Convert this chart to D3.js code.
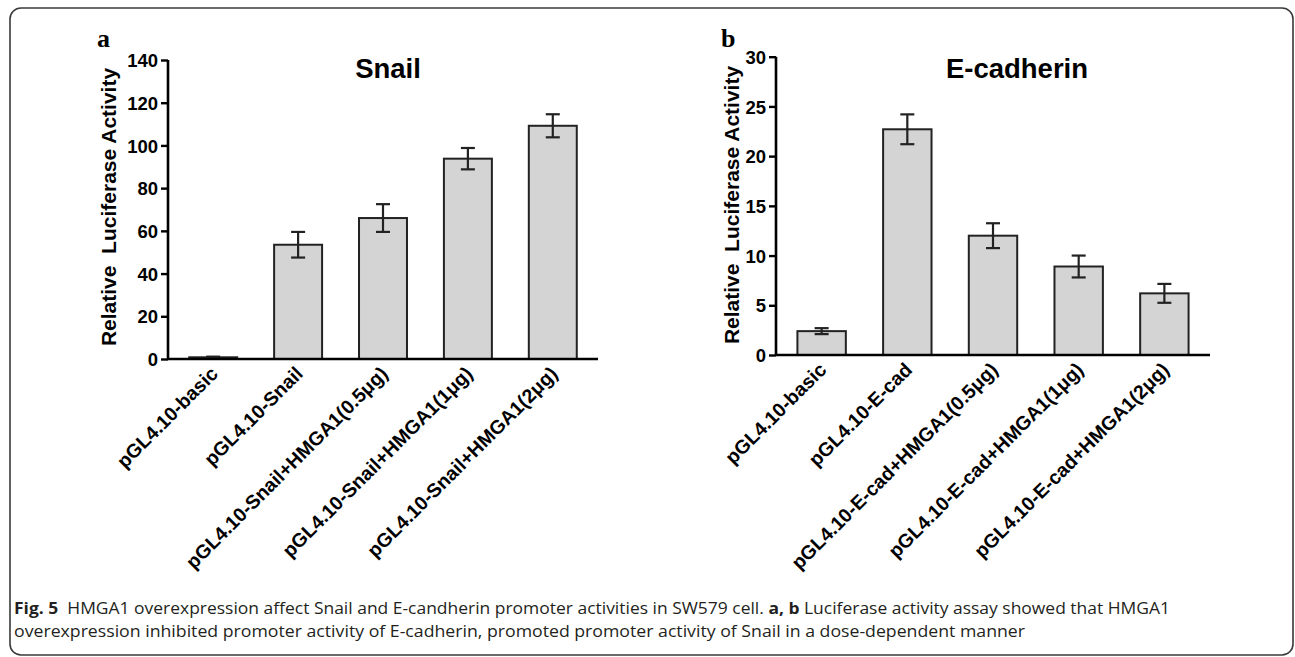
<!DOCTYPE html>
<html><head><meta charset="utf-8">
<script src="https://cdn.jsdelivr.net/npm/d3@7"></script>
<style>body{margin:0;background:#fff}svg{display:block}</style>
</head><body>
<svg id="c" width="1295" height="657"></svg>
<script>
// ---- data ----
const snailCategories = ["pGL4.10-basic","pGL4.10-Snail","pGL4.10-Snail+HMGA1(0.5μg)","pGL4.10-Snail+HMGA1(1μg)","pGL4.10-Snail+HMGA1(2μg)"];
const snailValues = [0.8, 53.5, 66, 93.8, 109.2];
const snailErrors = [0.3, 6, 6.5, 5, 5.4];
const snailTicks = [0,20,40,60,80,100,120,140];

const ecadCategories = ["pGL4.10-basic","pGL4.10-E-cad","pGL4.10-E-cad+HMGA1(0.5μg)","pGL4.10-E-cad+HMGA1(1μg)","pGL4.10-E-cad+HMGA1(2μg)"];
const ecadValues = [2.4, 22.7, 12.0, 8.9, 6.2];
const ecadErrors = [0.3, 1.5, 1.25, 1.1, 0.95];
const ecadTicks = [0,5,10,15,20,25,30];

const svg = d3.select("#c");
const F = "'Liberation Sans', Arial, sans-serif";

// frame
svg.append("rect").attr("x",10).attr("y",8).attr("width",1283).attr("height",647)
  .attr("rx",11).attr("fill","none").attr("stroke","#3a3a3a").attr("stroke-width",1.6);

function panel(o){
  const g = svg.append("g");
  const y = d3.scaleLinear().domain([0,o.max]).range([o.y0,o.y1]);
  const x = d3.scaleBand().domain(o.cats).range([o.x0,o.x1]).paddingInner(0.435).paddingOuter(0.25);
  // bars
  g.selectAll("rect.bar").data(o.vals).enter().append("rect")
    .attr("x",(d,i)=>x(o.cats[i])).attr("width",x.bandwidth())
    .attr("y",d=>y(d)).attr("height",d=>o.y0-y(d))
    .attr("fill","#d4d4d4").attr("stroke","#222").attr("stroke-width",2);
  // error bars
  const eg = g.selectAll("g.err").data(o.vals).enter().append("g")
    .attr("stroke","#222").attr("stroke-width",2.2);
  eg.append("line").attr("x1",(d,i)=>x(o.cats[i])+x.bandwidth()/2).attr("x2",(d,i)=>x(o.cats[i])+x.bandwidth()/2)
    .attr("y1",(d,i)=>y(d+o.errs[i])).attr("y2",(d,i)=>y(d-o.errs[i]));
  eg.append("line").attr("x1",(d,i)=>x(o.cats[i])+x.bandwidth()/2-7).attr("x2",(d,i)=>x(o.cats[i])+x.bandwidth()/2+7)
    .attr("y1",(d,i)=>y(d+o.errs[i])).attr("y2",(d,i)=>y(d+o.errs[i]));
  eg.append("line").attr("x1",(d,i)=>x(o.cats[i])+x.bandwidth()/2-7).attr("x2",(d,i)=>x(o.cats[i])+x.bandwidth()/2+7)
    .attr("y1",(d,i)=>y(d-o.errs[i])).attr("y2",(d,i)=>y(d-o.errs[i]));
  // y axis
  const ya = g.append("g").attr("transform",`translate(${o.x0},0)`)
    .call(d3.axisLeft(y).tickValues(o.ticks).tickSize(7).tickPadding(3));
  ya.select(".domain").attr("stroke","#000").attr("stroke-width",2.6).attr("d",`M0,${o.y1}V${o.y0}`);
  ya.selectAll(".tick line").attr("stroke","#000").attr("stroke-width",2.4);
  ya.selectAll(".tick text").attr("fill","#000").attr("font-family",F).attr("font-weight","bold")
    .attr("font-size",18.5).attr("dy","0.36em");
  // x axis
  const xa = g.append("g").attr("transform",`translate(0,${o.y0})`)
    .call(d3.axisBottom(x).tickSize(0).tickPadding(0));
  xa.select(".domain").attr("stroke","#000").attr("stroke-width",2.6).attr("d",`M${o.x0},0H${o.x1}`);
  xa.selectAll(".tick text").attr("fill","#000").attr("font-family",F).attr("font-weight","bold")
    .attr("font-size",19.5).attr("text-anchor","end").attr("dy",null).attr("y",0)
    .attr("transform","translate(6,16) rotate(-45)");
  // title
  g.append("text").attr("x",o.tx).attr("y",78).attr("text-anchor","middle")
    .attr("font-family",F).attr("font-weight","bold").attr("font-size",27.5).text(o.title);
  // ylabel
  g.append("text").attr("transform",`translate(${o.lx},${o.ly}) rotate(-90)`).attr("text-anchor","middle")
    .attr("font-family",F).attr("font-weight","bold").attr("font-size",21)
    .attr("xml:space","preserve").style("white-space","pre").text("Relative  Luciferase Activity");
  // panel letter
  g.append("text").attr("x",o.px).attr("y",47).attr("font-family","'Liberation Serif', 'Times New Roman', serif")
    .attr("font-weight","bold").attr("font-size",26).text(o.letter);
}

panel({cats:snailCategories, vals:snailValues, errs:snailErrors, ticks:snailTicks, max:140,
  y0:359, y1:60, x0:168, x1:598, title:"Snail", tx:388, lx:116, ly:207, px:97, letter:"a"});
panel({cats:ecadCategories, vals:ecadValues, errs:ecadErrors, ticks:ecadTicks, max:30,
  y0:355, y1:56.7, x0:776, x1:1210, title:"E-cadherin", tx:1017, lx:739, ly:205, px:721, letter:"b"});

// caption
const CF = "'Open Sans', 'Noto Sans', sans-serif";
const c1 = svg.append("text").attr("x",14).attr("y",614).attr("font-family",CF).attr("font-size",16.5)
  .attr("fill","#231f20").attr("textLength",1156).attr("lengthAdjust","spacingAndGlyphs");
c1.append("tspan").attr("font-weight","bold").text("Fig. 5");
c1.append("tspan").text("\u00a0 HMGA1 overexpression affect Snail and E-candherin promoter activities in SW579 cell. ");
c1.append("tspan").attr("font-weight","bold").text("a, b");
c1.append("tspan").text(" Luciferase activity assay showed that HMGA1");
svg.append("text").attr("x",14).attr("y",637).attr("font-family",CF).attr("font-size",16.5)
  .attr("fill","#231f20").attr("textLength",1011).attr("lengthAdjust","spacingAndGlyphs")
  .text("overexpression inhibited promoter activity of E-cadherin, promoted promoter activity of Snail in a dose-dependent manner");
</script>
</body></html>
